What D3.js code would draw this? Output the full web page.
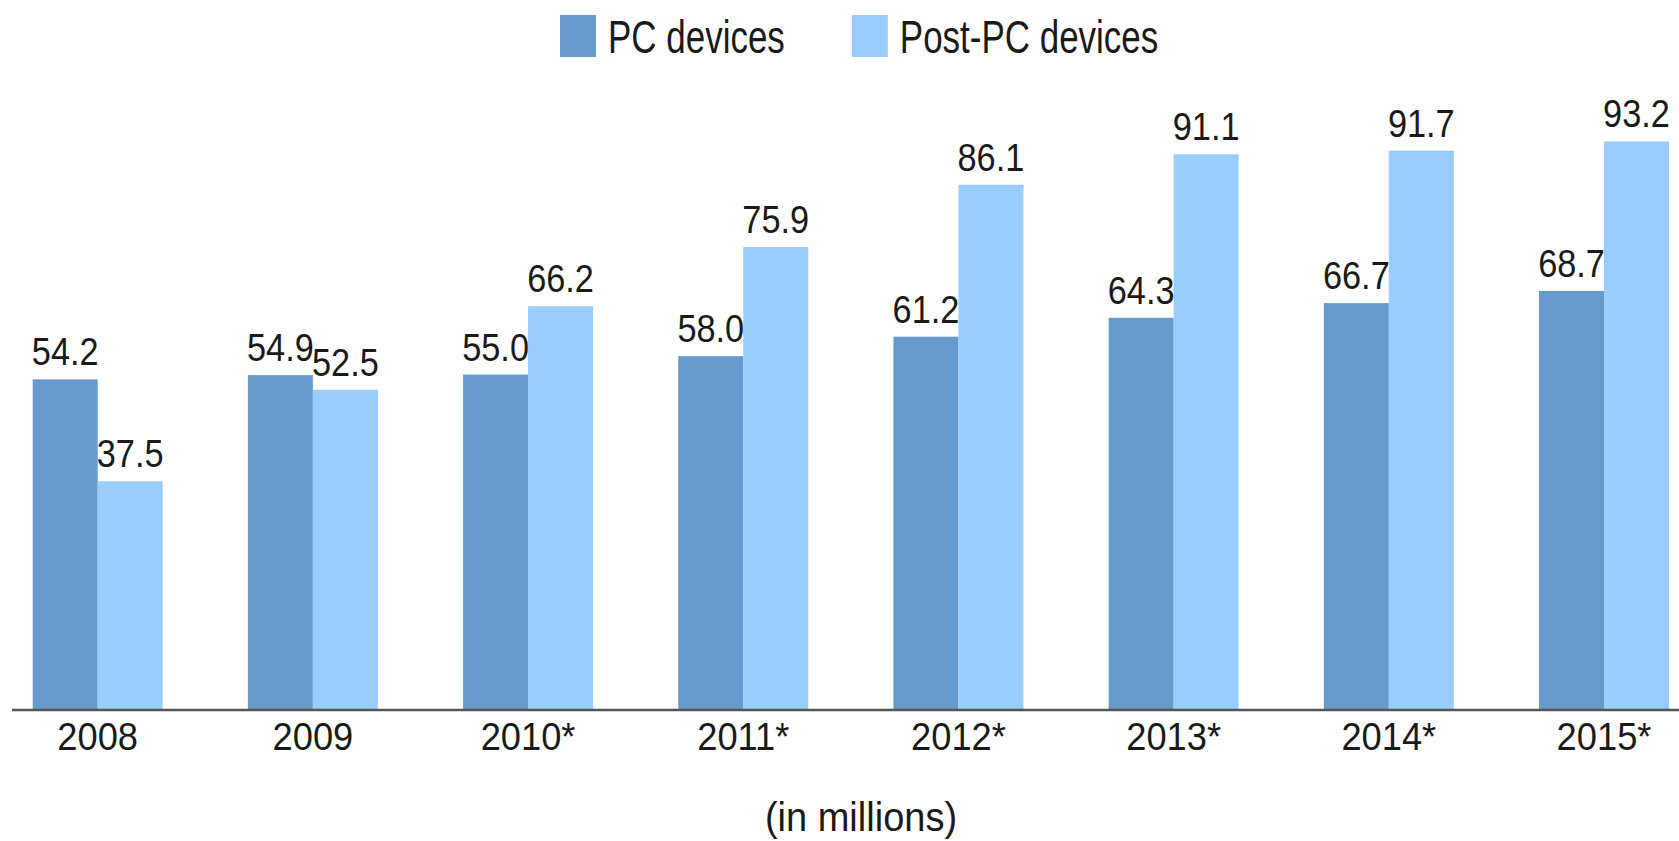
<!DOCTYPE html>
<html>
<head>
<meta charset="utf-8">
<script src="https://cdn.jsdelivr.net/npm/d3@7"></script>
<style>
  body { margin: 0; background: #fff; }
  svg text { font-family: "Liberation Sans", Arial, sans-serif; fill: #1a1a1a; }
</style>
</head>
<body>
<div id="chart"></div>
<script>
const w = 1679;
const h = 841;

// data
const years = ["2008", "2009", "2010*", "2011*", "2012*", "2013*", "2014*", "2015*"];
const pcDevices = [54.2, 54.9, 55.0, 58.0, 61.2, 64.3, 66.7, 68.7];
const postPcDevices = [37.5, 52.5, 66.2, 75.9, 86.1, 91.1, 91.7, 93.2];
const seriesNames = ["PC devices", "Post-PC devices"];
const seriesColors = ["#6699cc", "#99ccff"];
const unitLabel = "(in millions)";

const baseY = 710;

const svg = d3.select("#chart").append("svg").attr("width", w).attr("height", h);

// squeeze text horizontally so it looks like the condensed face of the original
function condense(sel, f) {
    sel.each(function() {
        const len = this.getComputedTextLength();
        d3.select(this).attr("textLength", len * f).attr("lengthAdjust", "spacingAndGlyphs");
    });
}

// scales
const x0 = d3.scaleBand().domain(years).range([32.7, 1669]).paddingInner(0.396).paddingOuter(0);
const x1 = d3.scaleBand().domain(seriesNames).range([0, x0.bandwidth()]);
const y = d3.scaleLinear().domain([0, 100]).range([baseY, baseY - 610]);
const color = d3.scaleOrdinal().domain(seriesNames).range(seriesColors);

const rows = years.map((yr, i) => ({
    year: yr,
    values: [
        { key: seriesNames[0], value: pcDevices[i] },
        { key: seriesNames[1], value: postPcDevices[i] }
    ]
}));

const group = svg.selectAll("g.year")
    .data(rows)
    .enter()
    .append("g")
    .attr("class", "year")
    .attr("transform", d => "translate(" + x0(d.year) + ",0)");

group.selectAll("rect")
    .data(d => d.values)
    .enter()
    .append("rect")
    .attr("x", d => x1(d.key))
    .attr("y", d => y(d.value))
    .attr("width", x1.bandwidth())
    .attr("height", d => y(0) - y(d.value))
    .style("fill", d => color(d.key));

//value labels
group.selectAll("text.val")
    .data(d => d.values)
    .enter()
    .append("text")
    .attr("class", "val")
    .attr("x", d => x1(d.key) + x1.bandwidth() / 2)
    .attr("y", d => y(d.value) - 14)
    .attr("text-anchor", "middle")
    .style("font-size", "39px")
    .text(d => d.value.toFixed(1))
    .call(condense, 0.88);

// x axis
const xAxis = svg.append("g")
    .attr("transform", "translate(0," + baseY + ")")
    .call(d3.axisBottom(x0).tickSize(0).tickPadding(12));
xAxis.select(".domain").remove();
xAxis.append("line")
    .attr("x1", 12).attr("x2", w)
    .attr("y1", 0).attr("y2", 0)
    .style("stroke", "#555")
    .style("stroke-width", 2.5);
xAxis.selectAll(".tick text")
    .attr("font-family", null)
    .attr("font-size", null)
    .style("font-size", "39px")
    .style("fill", "#1a1a1a")
    .call(condense, 0.93);

svg.append("text")
    .attr("x", 861)
    .attr("y", 831)
    .attr("text-anchor", "middle")
    .style("font-size", "40px")
    .text(unitLabel)
    .call(condense, 0.95);

// legend
const legend = svg.append("g").attr("transform", "translate(560,0)");
let lx = 0;
seriesNames.forEach((name, i) => {
    const item = legend.append("g").attr("transform", "translate(" + lx + ",0)");
    item.append("rect")
        .attr("x", 0).attr("y", 15)
        .attr("width", 36).attr("height", 42)
        .style("fill", color(name));
    const t = item.append("text")
        .attr("x", 48).attr("y", 53)
        .style("font-size", "46px")
        .text(name);
    const full = t.node().getComputedTextLength();
    t.call(condense, 0.76);
    lx += 48 + full * 0.76 + 67;
});
</script>
</body>
</html>
